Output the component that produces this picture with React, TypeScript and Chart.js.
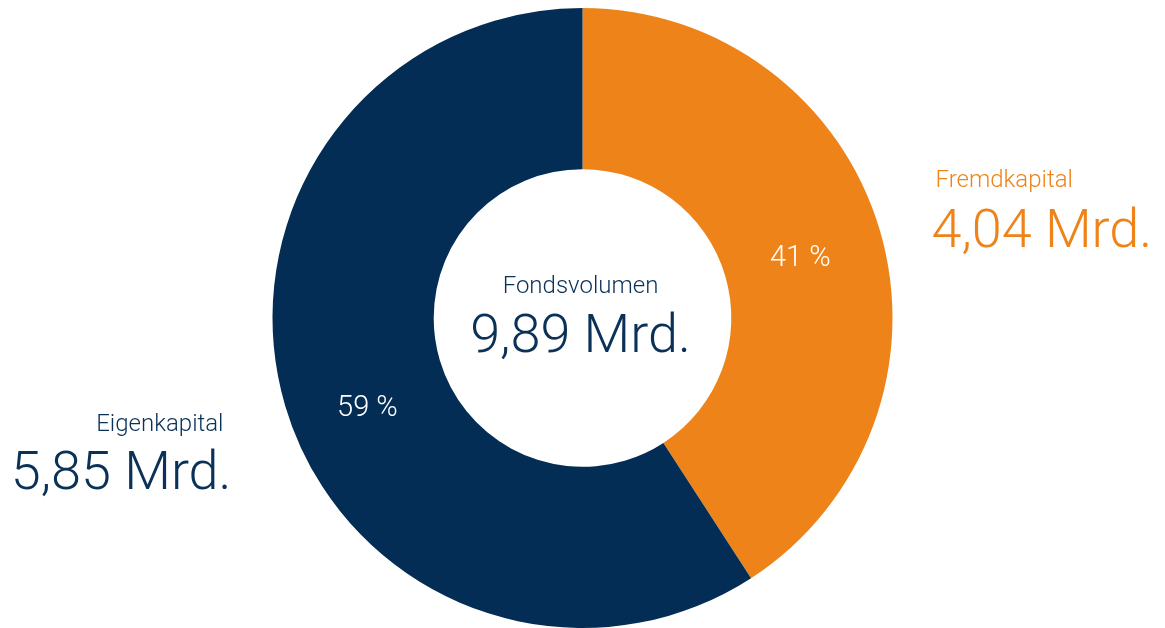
import React, { useEffect, useRef } from "react";
import { Chart, registerables } from "chart.js";

Chart.register(...registerables);

const categories = ["Fremdkapital", "Eigenkapital"];
const values = [4.04, 5.85];
const valueLabels = ["4,04 Mrd.", "5,85 Mrd."];
const percentLabels = ["41 %", "59 %"];
const totalTitle = "Fondsvolumen";
const totalLabel = "9,89 Mrd.";
const colors = ["#ee8419", "#032d54"];
const labelAngleFrac = [0.505, 0.472];

const FONT = "Roboto, 'Liberation Sans', Arial, sans-serif";
const W = 300;
const BIG = 54;
const SMALL = 24;
const PCT = 29;

const textPlugin = {
  id: "donutText",
  afterDatasetsDraw(chart: any) {
    const ctx = chart.ctx;
    const meta = chart.getDatasetMeta(0);
    const arc0 = meta.data[0];
    const cx = arc0.x;
    const cy = arc0.y;
    const outer = arc0.outerRadius;
    const inner = arc0.innerRadius;
    ctx.save();
    meta.data.forEach((arc: any, i: number) => {
      const a = arc.startAngle + (arc.endAngle - arc.startAngle) * labelAngleFrac[i];
      const r = (inner + outer) / 2;
      const x = cx + Math.cos(a) * r;
      const y = cy + Math.sin(a) * r;
      ctx.fillStyle = "#ffffff";
      ctx.font = `${W} ${PCT}px ${FONT}`;
      ctx.textAlign = "center";
      ctx.textBaseline = "middle";
      ctx.fillText(percentLabels[i], x - 3, y + 3);
    });
    ctx.fillStyle = "#0a3157";
    ctx.textAlign = "center";
    ctx.textBaseline = "alphabetic";
    ctx.font = `${W} ${SMALL}px ${FONT}`;
    ctx.fillText(totalTitle, cx - 2, cy - 25);
    ctx.font = `${W} ${BIG}px ${FONT}`;
    ctx.fillText(totalLabel, cx - 2, cy + 34);
    ctx.fillStyle = "#ee8419";
    ctx.textAlign = "left";
    ctx.font = `${W} ${SMALL}px ${FONT}`;
    ctx.fillText(categories[0], cx + outer + 43, cy - 131);
    ctx.font = `${W} ${BIG}px ${FONT}`;
    ctx.fillText(valueLabels[0], cx + outer + 39, cy - 71);
    ctx.fillStyle = "#0a3157";
    ctx.textAlign = "right";
    ctx.font = `${W} ${SMALL}px ${FONT}`;
    ctx.fillText(categories[1], cx - outer - 49, cy + 113);
    ctx.font = `${W} ${BIG}px ${FONT}`;
    ctx.fillText(valueLabels[1], cx - outer - 41, cy + 171);
    ctx.restore();
  },
};

export default function App() {
  const ref = useRef<HTMLCanvasElement>(null);
  useEffect(() => {
    document.body.style.margin = "0";
    const chart = new Chart(ref.current as HTMLCanvasElement, {
      type: "doughnut",
      data: {
        labels: categories,
        datasets: [
          {
            data: values,
            backgroundColor: colors,
            borderWidth: 0,
          },
        ],
      },
      options: {
        responsive: false,
        animation: false,
        cutout: "48%",
        layout: { padding: { top: 8, bottom: 0, left: 0, right: 0 } },
        plugins: {
          legend: { display: false },
          tooltip: { enabled: false },
        },
      },
      plugins: [textPlugin],
    });
    return () => chart.destroy();
  }, []);
  return (
    <div style={{ position: "absolute", left: 0, top: 0, width: 1165, height: 628, background: "#fff" }}>
      <canvas ref={ref} width={1165} height={628} />
    </div>
  );
}
